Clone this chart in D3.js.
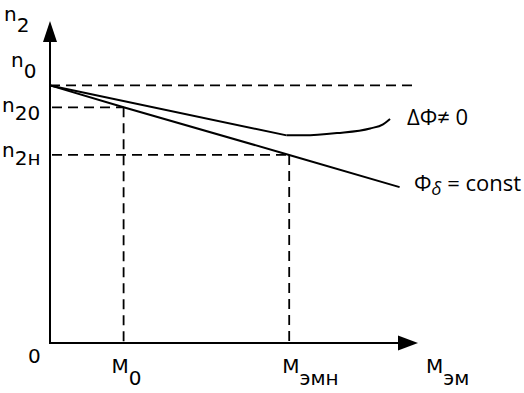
<!DOCTYPE html>
<html>
<head>
<meta charset="utf-8">
<script src="https://cdn.jsdelivr.net/npm/d3@7"></script>
<style>
  html, body { margin: 0; padding: 0; background: #fff; }
  svg text { font-family: "DejaVu Sans", sans-serif; fill: #000; }
  .rlab { font-family: "Open Sans", "DejaVu Sans", sans-serif; }
</style>
</head>
<body>
<svg id="chart" width="524" height="393"></svg>
<script>
// ---- data (arbitrary units) ----
const xMax = 10;          // end of M axis (arrow tip)
const yMax = 12.5;        // end of n axis (arrow tip)
const mTickValues = [2.0, 6.5];
const mTickNames = [["M", "0"], ["M", "эмн"]];
const nLevelValues = [10, 9.15, 7.3];
const nLevelNames = [["n", "0"], ["n", "20"], ["n", "2н"]];
const phiConstLine = [[0, 10], [2.0, 9.15], [6.5, 7.3], [9.5, 6.05]];
const deltaPhiLine = [[0, 10], [6.43, 8.06]];
const deltaPhiCurve = [[6.43, 8.06], [6.9, 8.06], [7.8, 8.15], [8.7, 8.33], [9.05, 8.49], [9.24, 8.7]];
const n0DashEnd = 9.9;

const svg = d3.select("#chart");
const x = d3.scaleLinear().domain([0, xMax]).range([50, 418]);
const y = d3.scaleLinear().domain([0, yMax]).range([343, 21]);

const stroke = "#000";

// dashed guide lines
const dash = "10,6";
svg.append("line")
  .attr("x1", x(0)).attr("x2", x(n0DashEnd))
  .attr("y1", y(nLevelValues[0])).attr("y2", y(nLevelValues[0]))
  .attr("stroke", stroke).attr("stroke-width", 1.8).attr("stroke-dasharray", dash);
mTickValues.forEach((m, i) => {
  const n = nLevelValues[i + 1];
  svg.append("line")
    .attr("x1", x(0) + 2).attr("x2", x(m))
    .attr("y1", y(n)).attr("y2", y(n))
    .attr("stroke", stroke).attr("stroke-width", 1.8).attr("stroke-dasharray", dash);
  svg.append("line")
    .attr("x1", x(m)).attr("x2", x(m))
    .attr("y1", y(n)).attr("y2", y(0))
    .attr("stroke", stroke).attr("stroke-width", 1.8).attr("stroke-dasharray", dash);
});

// curves
const lin = d3.line().x(d => x(d[0])).y(d => y(d[1]));
const smooth = d3.line().x(d => x(d[0])).y(d => y(d[1])).curve(d3.curveMonotoneX);
svg.append("path").attr("d", lin(phiConstLine))
  .attr("fill", "none").attr("stroke", stroke).attr("stroke-width", 2);
svg.append("path").attr("d", lin(deltaPhiLine))
  .attr("fill", "none").attr("stroke", stroke).attr("stroke-width", 2);
svg.append("path").attr("d", smooth(deltaPhiCurve))
  .attr("fill", "none").attr("stroke", stroke).attr("stroke-width", 2);

// axes
const xAxis = d3.axisBottom(x).tickValues([]).tickSizeOuter(0);
const yAxis = d3.axisLeft(y).tickValues([]).tickSizeOuter(0);
const gx = svg.append("g").attr("transform", `translate(0,${y(0)})`).call(xAxis);
const gy = svg.append("g").attr("transform", `translate(${x(0)},0)`).call(yAxis);
[gx, gy].forEach(g => g.select(".domain").attr("stroke", stroke).attr("stroke-width", 2));
gx.select(".domain").attr("d", `M${x(0) - 1},0H${x(xMax) - 18}`);
gy.select(".domain").attr("d", `M0,${y(0) + 1}V${y(yMax) + 19}`);

// arrow heads
svg.append("path")
  .attr("d", `M${x(xMax)},${y(0)} L${x(xMax) - 20},${y(0) - 7.5} L${x(xMax) - 20},${y(0) + 7.5} Z`)
  .attr("fill", stroke);
svg.append("path")
  .attr("d", `M${x(0)},${y(yMax)} L${x(0) - 7},${y(yMax) + 21} L${x(0) + 7},${y(yMax) + 21} Z`)
  .attr("fill", stroke);

// labels with subscripts
function subLabel(px, py, main, sub, shift, size, subSize) {
  const t = svg.append("text").attr("x", px).attr("y", py).style("font-size", size + "px");
  t.append("tspan").text(main);
  t.append("tspan").attr("dy", shift).style("font-size", subSize + "px").text(sub);
  return t;
}
subLabel(4, 21, "n", "2", 11, 20, 20);
subLabel(426, 373, "M", "эм", 12, 20, 20);
svg.append("text").attr("x", 28).attr("y", 363).style("font-size", "20px").text("0");
const nLabelPos = [[11, 67, 11], [2, 112, 8], [2, 157, 8]];
nLevelNames.forEach((nm, i) => {
  const p = nLabelPos[i];
  subLabel(p[0], p[1], nm[0], nm[1], p[2], 20, 20);
});
mTickNames.forEach((nm, i) => {
  const w = i === 0 ? 12 : 7;
  subLabel(x(mTickValues[i]) - w, 373, nm[0], nm[1], 12, 20, 20);
});

// curve labels
svg.append("text").attr("class", "rlab").attr("x", 407).attr("y", 125)
  .style("font-size", "22px").text("ΔΦ≠ 0");
const t2 = svg.append("text").attr("class", "rlab").attr("x", 414).attr("y", 191).style("font-size", "22px");
t2.append("tspan").text("Φ");
t2.append("tspan").attr("dy", 4).style("font-style", "italic").style("font-size", "18px").text("δ");
t2.append("tspan").attr("dy", -4).text(" = const");
</script>
</body>
</html>
